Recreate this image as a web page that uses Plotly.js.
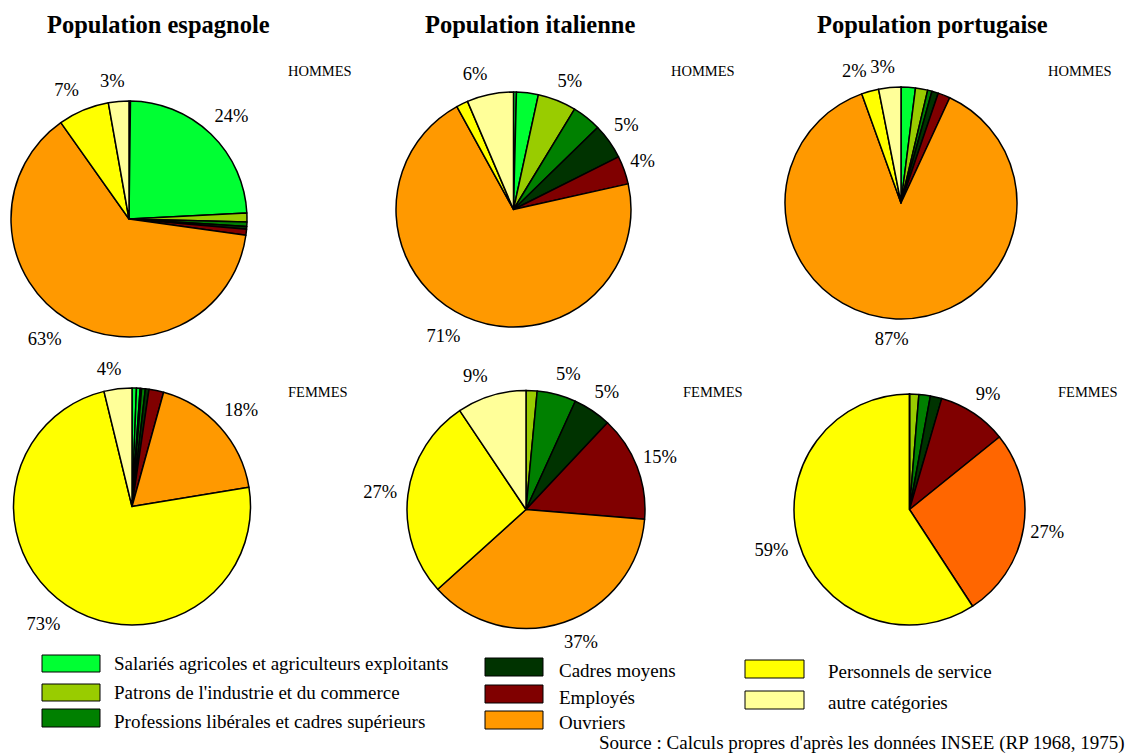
<!DOCTYPE html>
<html><head><meta charset="utf-8">
<script src="https://cdn.plot.ly/plotly-3.0.1.min.js"></script>
<style>html,body{margin:0;padding:0;background:#fff}#chart{width:1130px;height:753px}path.textline{display:none}</style>
</head><body><div id="chart"></div>
<script>
// Slice categories (agricultural group split in two slices of the same colour)
const categories = [
  "Salariés agricoles", "Agriculteurs exploitants",
  "Patrons de l'industrie et du commerce", "Professions libérales et cadres supérieurs",
  "Cadres moyens", "Employés", "Ouvriers", "Personnels de service", "autre catégories"
];
const sliceColors = ["#00ff33", "#00ff33", "#99cc00", "#008000", "#003300", "#800000", "#ff9900", "#ffff00", "#ffff99"];
const sliceColorsPortugalFemmes = ["#00ff33", "#00ff33", "#99cc00", "#008000", "#003300", "#800000", "#ff6600", "#ffff00", "#ffff99"];

// Values (%)
const espagnolHommes   = [0.2, 24.0, 1.2, 0.6, 0.4, 0.8, 63.0, 7.0, 2.8];
const italienHommes    = [0.4, 3.0, 5.3, 4.0, 4.9, 3.9, 70.5, 1.6, 6.4];
const portugaisHommes  = [0, 2.0, 1.7, 0.6, 0.9, 1.7, 87.6, 2.4, 3.1];
const espagnolFemmes   = [0.6, 0.5, 0.2, 0.5, 0.5, 2.0, 18.1, 73.8, 3.8];
const italienFemmes    = [0, 0, 1.5, 5.3, 5.2, 14.3, 37.0, 27.3, 9.4];
const portugaisFemmes  = [0, 0, 1.3, 1.6, 1.6, 9.7, 26.6, 59.2, 0];

// Labels printed next to slices
const espagnolHommesText  = ["", "24%", "", "", "", "", "63%", "7%", "3%"];
const italienHommesText   = ["", "", "5%", "", "5%", "4%", "71%", "", "6%"];
const portugaisHommesText = ["", "", "", "", "", "", "87%", "2%", "3%"];
const espagnolFemmesText  = ["", "", "", "", "", "", "18%", "73%", "4%"];
const italienFemmesText   = ["", "", "", "5%", "5%", "15%", "37%", "27%", "9%"];
const portugaisFemmesText = ["", "", "", "", "", "9%", "27%", "59%", ""];

const panelTitles = ["Population espagnole", "Population italienne", "Population portugaise"];
const sexLabels = ["HOMMES", "FEMMES"];

const legendLabels = [
  "Salariés agricoles et agriculteurs exploitants",
  "Patrons de l'industrie et du commerce",
  "Professions libérales et cadres supérieurs",
  "Cadres moyens", "Employés", "Ouvriers",
  "Personnels de service", "autre catégories"
];
const legendColors = ["#00ff33", "#99cc00", "#008000", "#003300", "#800000", "#ff9900", "#ffff00", "#ffff99"];
const sourceText = "Source : Calculs propres d'après les données INSEE (RP 1968, 1975)";

// ---- layout geometry (pixels) ----
const W = 1130, H = 753;
const FONT = "Liberation Serif, Times New Roman, serif";
const LABEL_FONT = 18.5, LABEL_H = LABEL_FONT * 1.15, LABEL_GAP = 10, LABEL_PIE_SHRINK = 30;
const pieGeom = [ // cx, cy, r
  [129, 219, 118], [513.5, 209.5, 117.5], [901, 203, 116],
  [132, 506.5, 118.5], [526, 509.5, 119], [909.5, 509.5, 115.5]
];
function domainOf(cx, cy, r) {
  return { x: [(cx - r) / W, (cx + r) / W], y: [1 - (cy + r) / H, 1 - (cy - r) / H] };
}
function textWidth(t) {
  let w = 0;
  for (const ch of t) w += (ch === "%" ? 0.833 : 0.5) * LABEL_FONT;
  return w;
}
const clamp1 = v => Math.max(-1, Math.min(1, v));
// Domain of a transparent label pie, placed so that Plotly's outside text lands
// next to the slice's mid-angle the way the reference sets its labels.
function labelDomain(values, texts, k, g) {
  const tot = values.reduce((a, b) => a + b, 0);
  let cum = 0;
  for (let j = 0; j < k; j++) cum += values[j];
  const th = (cum + values[k] / 2) / tot * 2 * Math.PI;
  const s = Math.sin(th), c = Math.cos(th);
  const w = textWidth(texts[k]), h = LABEL_H;
  // where Plotly puts an outside label (relative to its pie centre)
  const rl = g[2] - LABEL_PIE_SHRINK;
  const px = rl * s, py = -rl * c;
  let dx = w / 2, dy = h / 2;
  if (px < 0) dx = -dx;
  if (py < 0) dy = -dy;
  const plotX = px + dx + Math.abs(dy) * (dx > 0 ? 1 : -1) / 2;
  const plotY = py + dy / (1 + px * px / (py * py));
  // where the reference puts it
  const R = g[2] + LABEL_GAP;
  const fx = clamp1(s / 0.2), fy = clamp1(c / 0.6);
  const wantX = R * s + (w / 2) * fx + (fx > 0 ? -3 * fx : fx);
  const wantY = -R * c - 11 * fy;
  return domainOf(g[0] + wantX - plotX, g[1] + wantY - plotY, rl);
}

const pieData = [
  [espagnolHommes, espagnolHommesText, sliceColors],
  [italienHommes, italienHommesText, sliceColors],
  [portugaisHommes, portugaisHommesText, sliceColors],
  [espagnolFemmes, espagnolFemmesText, sliceColors],
  [italienFemmes, italienFemmesText, sliceColors],
  [portugaisFemmes, portugaisFemmesText, sliceColorsPortugalFemmes]
];

const traces = [];
pieData.forEach((d, i) => {
  const g = pieGeom[i];
  traces.push({
    type: "pie", labels: categories, values: d[0],
    textinfo: "none", sort: false, direction: "clockwise", rotation: 0,
    marker: { colors: d[2], line: { color: "#000", width: 1.5 } },
    domain: domainOf(g[0], g[1], g[2]), hoverinfo: "none", showlegend: false
  });
});
pieData.forEach((d, i) => {
  d[1].forEach((lab, k) => {
    if (!lab) return;
    traces.push({
      type: "pie", labels: categories, values: d[0],
      text: d[1], textinfo: "text",
      textposition: d[1].map((t, j) => j === k ? "outside" : "none"),
      outsidetextfont: { family: FONT, size: LABEL_FONT, color: "#000" },
      sort: false, direction: "clockwise", rotation: 0,
      marker: { colors: categories.map(() => "rgba(0,0,0,0)"), line: { width: 0 } },
      domain: labelDomain(d[0], d[1], k, pieGeom[i]), hoverinfo: "none", showlegend: false
    });
  });
});

const annotations = [];
const titleX = [158, 530, 932];
panelTitles.forEach((t, i) => annotations.push({
  text: "<b>" + t + "</b>", x: titleX[i] / W, y: 1 - 25 / H, xref: "paper", yref: "paper",
  xanchor: "center", yanchor: "middle", showarrow: false,
  font: { family: FONT, size: 24.5, color: "#000" }
}));
const sexPos = [[320, 71], [703, 71], [1080, 71], [318, 392], [713, 392], [1088, 392]];
sexPos.forEach((p, i) => annotations.push({
  text: sexLabels[i < 3 ? 0 : 1], x: p[0] / W, y: 1 - p[1] / H, xref: "paper", yref: "paper",
  xanchor: "center", yanchor: "middle", showarrow: false,
  font: { family: FONT, size: 14.5, color: "#000" }
}));

// legend: [rect x0, x1, y0, y1, text x, text y]
const legendPos = [
  [42, 100, 655, 672, 112, 663],
  [42, 100, 684, 701, 112, 692],
  [42, 100, 709, 727, 112, 721],
  [485, 543, 658, 676, 557, 670],
  [485, 543, 685, 703, 557, 697],
  [485, 543, 711, 729, 557, 722],
  [745, 804, 660, 678, 826, 671],
  [745, 804, 691, 709, 826, 702]
];
const shapes = [];
legendLabels.forEach((lab, i) => {
  const p = legendPos[i];
  shapes.push({
    type: "rect", xref: "paper", yref: "paper",
    x0: p[0] / W, x1: p[1] / W, y0: 1 - p[3] / H, y1: 1 - p[2] / H,
    fillcolor: legendColors[i], line: { color: "#000", width: 1 }
  });
  annotations.push({
    text: lab, x: p[4] / W, y: 1 - p[5] / H, xref: "paper", yref: "paper",
    xanchor: "left", yanchor: "middle", showarrow: false,
    font: { family: FONT, size: 19, color: "#000" }
  });
});
annotations.push({
  text: sourceText, x: 1127 / W, y: 1 - 743 / H, xref: "paper", yref: "paper",
  xanchor: "right", yanchor: "middle", showarrow: false,
  font: { family: FONT, size: 19, color: "#000" }
});

const layout = {
  width: W, height: H,
  margin: { l: 0, r: 0, t: 0, b: 0 },
  paper_bgcolor: "#fff", plot_bgcolor: "#fff",
  showlegend: false,
  annotations: annotations,
  shapes: shapes
};

Plotly.newPlot("chart", traces, layout, { staticPlot: true, displayModeBar: false });
</script>
</body></html>
